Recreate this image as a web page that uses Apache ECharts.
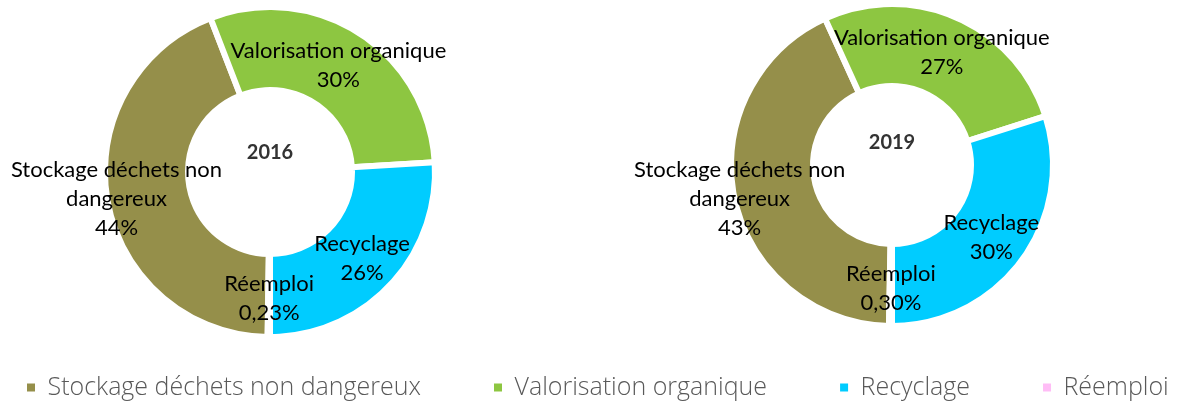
<!DOCTYPE html>
<html>
<head>
<meta charset="utf-8">
<script src="https://cdn.jsdelivr.net/npm/echarts@6/dist/echarts.min.js"></script>
<style>
  html, body { margin: 0; padding: 0; background: #fff; }
  #chart { width: 1184px; height: 405px; }
</style>
</head>
<body>
<div id="chart"></div>
<script>
// categories and values (percent)
var categories = ["Stockage déchets non dangereux", "Valorisation organique", "Recyclage", "Réemploi"];
var years = ["2016", "2019"];
var values2016 = [44, 30, 26, 0.23];
var values2019 = [43, 27, 30, 0.30];
var colors = ["#958F4A", "#8DC641", "#00CCFF", "#FFBDF6"];

function fmtPct(v) {
  var s = Number.isInteger(v) ? String(v) : v.toFixed(2);
  return s.replace(".", ",") + "%";
}

function labelText(p) {
  var name = p.name.replace(" non dangereux", " non\ndangereux");
  return name + "\n" + fmtPct(p.value);
}

// Réemploi is the last slice, sitting just after 6 o'clock; the first slice starts right after it
function startAngleFor(vals) {
  var sum = vals.reduce(function (a, b) { return a + b; }, 0);
  var th = 180 + vals[3] / sum * 360;
  return 90 - th;
}

function makeSeries(vals, center, radius, stockShift) {
  return {
    type: "pie",
    center: center,
    radius: radius,
    startAngle: startAngleFor(vals),
    clockwise: true,
    avoidLabelOverlap: false,
    silent: true,
    itemStyle: { borderColor: "#fff", borderWidth: 6 },
    label: {
      show: true,
      position: "inside",
      formatter: labelText,
      color: "#000",
      fontFamily: "Lato",
      fontSize: 22,
      lineHeight: 29,
      align: "center"
    },
    labelLine: { show: false },
    labelLayout: function (params) {
      if (params.dataIndex === 0) {
        return { dx: stockShift[0], dy: stockShift[1] };
      }
    },
    data: categories.map(function (c, i) {
      return { name: c, value: vals[i], itemStyle: { color: colors[i] } };
    })
  };
}

var chart = echarts.init(document.getElementById("chart"));
chart.setOption({
  animation: false,
  color: colors,
  legend: {
    data: categories,
    left: 25,
    top: 375,
    padding: 0,
    icon: "rect",
    itemWidth: 10,
    itemHeight: 10,
    itemGap: 71,
    formatter: function (name) { return " " + name; },
    textStyle: { fontFamily: "Open Sans", fontWeight: 300, fontSize: 25, color: "#595959" }
  },
  graphic: [
    { type: "text", x: 270, y: 153, style: { text: years[0], font: "bold 20px Lato", fill: "#333", align: "center", verticalAlign: "middle" } },
    { type: "text", x: 892, y: 143, style: { text: years[1], font: "bold 20px Lato", fill: "#333", align: "center", verticalAlign: "middle" } }
  ],
  series: [
    makeSeries(values2016, [270, 172], [82, 165], [-29, 5]),
    makeSeries(values2019, [892, 165], [79, 161], [-32, 9])
  ]
});
</script>
</body>
</html>
